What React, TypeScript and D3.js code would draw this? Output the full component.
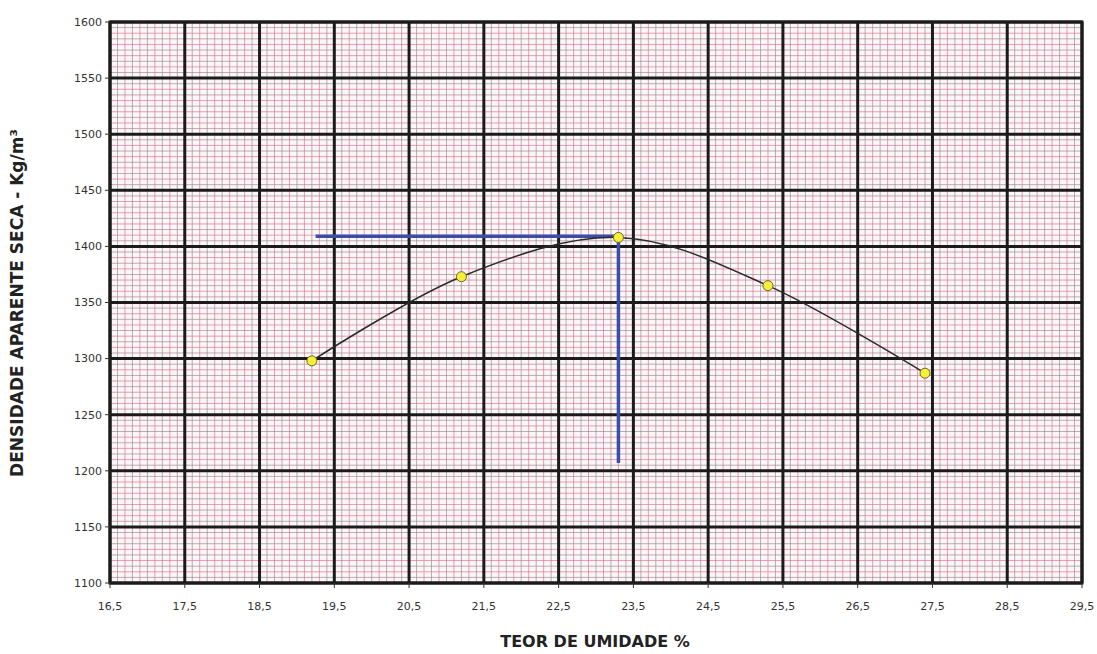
import React from 'react';
import { scaleLinear, line as d3Line, curveCatmullRom, range } from 'd3';

const moisture = [19.2, 21.2, 23.3, 25.3, 27.4];
const density = [1298, 1373, 1408, 1365, 1287];
const xTicks = [16.5, 17.5, 18.5, 19.5, 20.5, 21.5, 22.5, 23.5, 24.5, 25.5, 26.5, 27.5, 28.5, 29.5];
const yTicks = [1100, 1150, 1200, 1250, 1300, 1350, 1400, 1450, 1500, 1550, 1600];
// blue reading lines: optimum moisture / max dry density
const hLineX = [19.25, 23.3];
const hLineY = 1409;
const vLineX = 23.3;
const vLineY = [1408, 1207];

const W = 1097;
const H = 654;
const M = { top: 22, right: 15, bottom: 71, left: 110 };

export default function App() {
  const x = scaleLinear().domain([16.5, 29.5]).range([M.left, W - M.right]);
  const y = scaleLinear().domain([1100, 1600]).range([H - M.bottom, M.top]);

  const pts = moisture.map((m, i) => ({ m, d: density[i] }));
  const path =
    d3Line<{ m: number; d: number }>()
      .x(p => x(p.m))
      .y(p => y(p.d))
      .curve(curveCatmullRom.alpha(0))(pts) || '';

  const minorX = range(0, 131).map(i => 16.5 + i * 0.1);
  const minorY = range(0, 101).map(i => 1100 + i * 5);

  const fmt = (v: number) => v.toFixed(1).replace('.', ',');

  return (
    <svg width={W} height={H} style={{ position: 'absolute', left: 0, top: 0, background: '#fff' }}>
      <rect x={M.left} y={M.top} width={x(29.5) - M.left} height={y(1100) - M.top} fill="#fdf6f8" />
      {/* minor grid */}
      {minorX.map((v, i) => (
        <line
          key={'mx' + i}
          x1={x(v)}
          x2={x(v)}
          y1={M.top}
          y2={y(1100)}
          stroke={i % 2 === 0 ? '#d9748f' : '#9a8a8e'}
          strokeWidth={0.9}
          opacity={0.75}
        />
      ))}
      {minorY.map((v, i) => (
        <line
          key={'my' + i}
          x1={M.left}
          x2={x(29.5)}
          y1={y(v)}
          y2={y(v)}
          stroke={i % 2 === 0 ? '#d9748f' : '#9a8a8e'}
          strokeWidth={0.9}
          opacity={0.75}
        />
      ))}
      {/* major grid */}
      {xTicks.map(v => (
        <line key={'gx' + v} x1={x(v)} x2={x(v)} y1={M.top} y2={y(1100)} stroke="#1b1b1b" strokeWidth={3} />
      ))}
      {yTicks.map(v => (
        <line key={'gy' + v} x1={M.left} x2={x(29.5)} y1={y(v)} y2={y(v)} stroke="#1b1b1b" strokeWidth={3} />
      ))}
      <rect
        x={M.left}
        y={M.top}
        width={x(29.5) - M.left}
        height={y(1100) - M.top}
        fill="none"
        stroke="#1b1b1b"
        strokeWidth={3}
      />
      {/* ticks */}
      {yTicks.map(v => (
        <line key={'ty' + v} x1={M.left - 5} x2={M.left} y1={y(v)} y2={y(v)} stroke="#333" strokeWidth={1} />
      ))}
      {xTicks.map(v => (
        <line key={'tx' + v} x1={x(v)} x2={x(v)} y1={y(1100)} y2={y(1100) + 5} stroke="#333" strokeWidth={1} />
      ))}
      {/* tick labels */}
      {yTicks.map(v => (
        <text
          key={'ly' + v}
          x={M.left - 8}
          y={y(v)}
          dy="0.35em"
          textAnchor="end"
          fontFamily="DejaVu Sans, Verdana, sans-serif"
          fontSize={11}
          fill="#333"
        >
          {v}
        </text>
      ))}
      {xTicks.map(v => (
        <text
          key={'lx' + v}
          x={x(v)}
          y={y(1100) + 27}
          textAnchor="middle"
          fontFamily="DejaVu Sans, Verdana, sans-serif"
          fontSize={11}
          fill="#333"
        >
          {fmt(v)}
        </text>
      ))}
      {/* blue reading lines */}
      <line x1={x(hLineX[0])} x2={x(hLineX[1])} y1={y(hLineY)} y2={y(hLineY)} stroke="#3a4ea8" strokeWidth={3.5} />
      <line x1={x(vLineX)} x2={x(vLineX)} y1={y(vLineY[0])} y2={y(vLineY[1])} stroke="#3a4ea8" strokeWidth={3.5} />
      {/* curve */}
      <path d={path} fill="none" stroke="#2a2a2a" strokeWidth={1.5} />
      {pts.map((p, i) => (
        <circle key={'p' + i} cx={x(p.m)} cy={y(p.d)} r={5} fill="#f5ef3a" stroke="#6b6a20" strokeWidth={1} />
      ))}
      {/* axis titles */}
      <text
        x={595}
        y={647}
        textAnchor="middle"
        fontFamily="DejaVu Sans, Verdana, sans-serif"
        fontWeight="bold"
        fontSize={16}
        fill="#222"
      >
        TEOR DE UMIDADE %
      </text>
      <text
        transform={`translate(23,303) rotate(-90)`}
        textAnchor="middle"
        fontFamily="DejaVu Sans, Verdana, sans-serif"
        fontWeight="bold"
        fontSize={17}
        fill="#222"
      >
        DENSIDADE APARENTE SECA - Kg/m³
      </text>
    </svg>
  );
}
